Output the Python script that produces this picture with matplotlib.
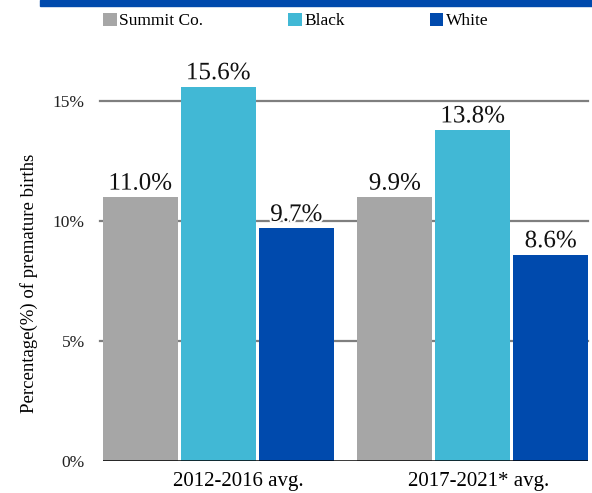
import matplotlib
matplotlib.use("Agg")
import matplotlib.pyplot as plt
import matplotlib.patheffects as pe
import matplotlib.transforms as mtransforms
import numpy as np
from matplotlib.patches import Rectangle

categories = ["2012-2016 avg.", "2017-2021* avg."]
series_names = ["Summit Co.", "Black", "White"]
# bar heights as drawn in the reference
summit = [11.0, 11.0]
black = [15.6, 13.8]
white = [9.7, 8.6]
# value labels as printed in the reference
summit_labels = ["11.0%", "9.9%"]
black_labels = ["15.6%", "13.8%"]
white_labels = ["9.7%", "8.6%"]
yticks = [0, 5, 10, 15]
ytick_labels = ["0%", "5%", "10%", "15%"]
colors = ["#a6a6a6", "#41b8d5", "#004aad"]

plt.rcParams['font.family'] = ['Liberation Serif', 'DejaVu Serif']

fig = plt.figure(figsize=(5.92, 4.93), dpi=100)
W, H = 592, 493
ax = fig.add_axes([103 / W, (H - 461) / H, (588 - 103) / W, (461 - 41) / H])

# top banner
fig.patches.append(Rectangle((40 / W, 1 - 6 / H), 1 - 40 / W, 6 / H,
                             transform=fig.transFigure, color="#004aad", zorder=5))

x = np.arange(len(categories))
step = 78 / 254.5
w = 75 / 254.5
handles = []
for i, (vals, labs, name) in enumerate(zip([summit, black, white],
                                           [summit_labels, black_labels, white_labels],
                                           series_names)):
    b = ax.bar(x + (i - 1) * step, vals, width=w, color=colors[i], label=name, zorder=2)
    handles.append(b)
    for xi, v, lab in zip(x + (i - 1) * step, vals, labs):
        ax.text(xi, v + 0.1, lab, ha="center", va="bottom", fontsize=18, color="#111111",
                zorder=4, path_effects=[pe.withStroke(linewidth=3, foreground="white")])

ax.set_xlim(-0.453, 1.453)
ax.set_ylim(0, 17.5)
ax.set_yticks(yticks)
ax.set_yticklabels(ytick_labels, fontsize=12.5, color="#222222")
for t in yticks[1:]:
    ax.axhline(t, xmin=-3 / 485, xmax=1, color="#7f7f7f", lw=1.6, zorder=1, clip_on=False)
ax.axhline(0, color="black", lw=1.8, zorder=3)
ax.tick_params(axis="y", length=0, pad=13)
ax.tick_params(axis="x", length=0, pad=8)
ax.set_xticks(x)
ax.set_xticklabels(categories, fontsize=15)
offsets = [20, 6]
for lab, dx in zip(ax.get_xticklabels(), offsets):
    lab.set_transform(lab.get_transform() + mtransforms.ScaledTranslation(dx / 100, 0, fig.dpi_scale_trans))
for s in ax.spines.values():
    s.set_visible(False)
ax.set_ylabel("Percentage(%) of premature births", fontsize=13.5)
ax.yaxis.set_label_coords((38 - 103) / 485, (461 - 283) / 420)

fig.legend(handles=handles, labels=series_names, loc="center left",
           bbox_to_anchor=(103 / W, 1 - 21 / H), ncol=3, frameon=False,
           prop={'family': ['Liberation Serif'], 'size': 12.5},
           handlelength=0.8, handleheight=0.8, handletextpad=0.12,
           columnspacing=4.9, borderaxespad=0, borderpad=0)

fig.savefig("out.png", dpi=100)
